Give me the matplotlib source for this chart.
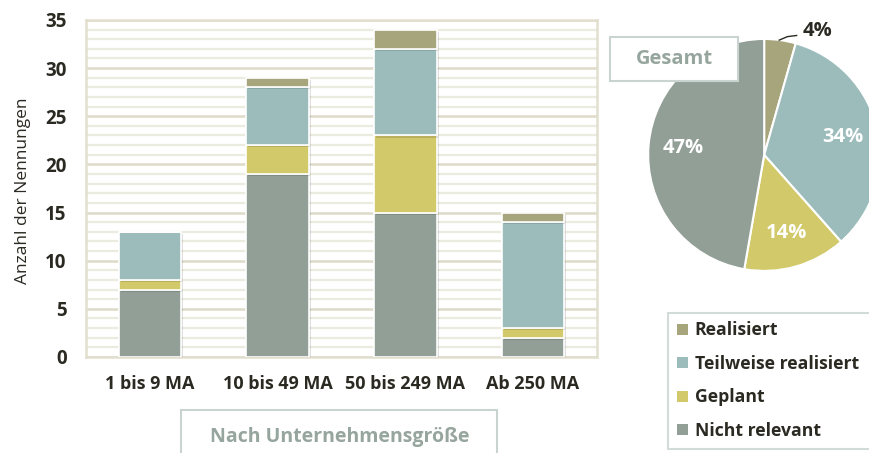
import matplotlib.pyplot as plt
import matplotlib.patheffects as pe
import numpy as np
from matplotlib.patches import Patch, Rectangle
from matplotlib.lines import Line2D

plt.rcParams['font.family'] = ['Open Sans', 'DejaVu Sans']

categories = ['1 bis 9 MA', '10 bis 49 MA', '50 bis 249 MA', 'Ab 250 MA']
nicht_relevant = [7, 19, 15, 2]
geplant = [1, 3, 8, 1]
teilweise = [5, 6, 9, 11]
realisiert = [0, 1, 2, 1]

series_names = ['Nicht relevant', 'Geplant', 'Teilweise realisiert', 'Realisiert']
series_colors = ['#929f97', '#d2c96a', '#9cbcbb', '#a7a57c']
series = [nicht_relevant, geplant, teilweise, realisiert]

dark = '#2b2a22'
grey_txt = '#96a59e'
box_edge = '#c9d3cf'

fig = plt.figure(figsize=(8.7, 4.53), dpi=100)
ax = fig.add_axes([0.099, 0.212, 0.587, 0.744])

x = np.arange(len(categories))
bottom = np.zeros(len(categories))
shadow = [pe.SimplePatchShadow(offset=(1.5, -1.5), shadow_rgbFace='#000000',
                               alpha=0.12), pe.Normal()]
for vals, col in zip(series, series_colors):
    bars = ax.bar(x, vals, 0.49, bottom=bottom, color=col, edgecolor='white',
                  linewidth=1.2, zorder=3)
    for b in bars:
        b.set_path_effects(shadow)
    bottom += np.array(vals)

ax.set_xlim(-0.5, 3.5)
ax.set_ylim(0, 35)
ax.set_yticks(range(0, 36, 5))
ax.set_yticks(range(0, 36, 1), minor=True)
ax.grid(axis='y', which='minor', color='#ecebdf', linewidth=1.6, zorder=0)
ax.grid(axis='y', which='major', color='#dedbc8', linewidth=1.8, zorder=0)
ax.tick_params(axis='y', which='both', length=0, pad=14, labelsize=13.5, colors=dark)
ax.tick_params(axis='x', length=0, pad=13, labelsize=13, colors=dark)
for t in ax.get_yticklabels():
    t.set_fontweight('bold')
ax.set_xticks(x)
ax.set_xticklabels(categories, fontweight='bold')
for s in ax.spines.values():
    s.set_color('#e2dfcf')
    s.set_linewidth(1.8)

fig.text(0.027, 0.58, 'Anzahl der Nennungen', rotation=90, va='center',
         ha='center', fontsize=12.5, color=dark)

# Box under the bars
fig.add_artist(Rectangle((0.208, -0.01), 0.363, 0.105, transform=fig.transFigure,
                         facecolor='white', edgecolor=box_edge, linewidth=1.5))
fig.text(0.390, 0.036, 'Nach Unternehmensgröße', ha='center', va='center',
         fontsize=14, fontweight='bold', color=grey_txt)

# Pie chart
totals = [sum(realisiert), sum(teilweise), sum(geplant), sum(nicht_relevant)]
pie_colors = [series_colors[3], series_colors[2], series_colors[1], series_colors[0]]
pax = fig.add_axes([0.745, 0.402, 0.2667, 0.512])
wedges, _, autotexts = pax.pie(totals, colors=pie_colors, startangle=90,
                               counterclock=False, autopct='%1.0f%%',
                               pctdistance=0.7,
                               wedgeprops=dict(edgecolor='white', linewidth=1.5),
                               textprops=dict(color='white', fontsize=14.5,
                                              fontweight='bold'))
pax.set_xlim(-1, 1)
pax.set_ylim(-1, 1)
pax.set_aspect('equal')
autotexts[0].set_position((0.46, 1.07))
autotexts[0].set_color(dark)
pax.add_line(Line2D([0.13, 0.2, 0.28], [0.99, 1.02, 1.03], color=dark,
                    linewidth=1, clip_on=False))

fig.add_artist(Rectangle((0.701, 0.821), 0.147, 0.097, transform=fig.transFigure,
                         facecolor='white', edgecolor=box_edge, linewidth=1.5,
                         zorder=5))
fig.text(0.775, 0.869, 'Gesamt', ha='center', va='center', fontsize=14.5,
         fontweight='bold', color=grey_txt, zorder=6)

handles = [Patch(facecolor=c, edgecolor='none', label=n)
           for n, c in zip(series_names[::-1], series_colors[::-1])]
leg = fig.legend(handles=handles, loc='upper left',
                 bbox_to_anchor=(0.768, 0.0, 0.25, 0.31), mode='expand',
                 fontsize=12.7, frameon=True, fancybox=False, handlelength=0.6,
                 handleheight=0.6, handletextpad=0.4, labelspacing=0.88,
                 borderpad=0.5, borderaxespad=0)
leg.get_frame().set_edgecolor(box_edge)
leg.get_frame().set_linewidth(1.5)
for t in leg.get_texts():
    t.set_fontweight('bold')
    t.set_color(dark)

fig.savefig('out.png', dpi=100)
